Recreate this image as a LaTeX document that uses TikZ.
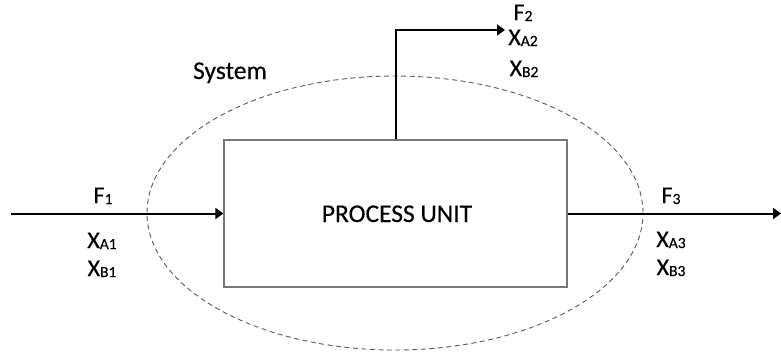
\documentclass[tikz,border=0pt]{standalone}
\usepackage{fontspec}
\setmainfont{Carlito}[FakeBold=0.35]
\usetikzlibrary{arrows.meta,shapes.geometric}
\definecolor{sysgray}{RGB}{90,90,90}
\definecolor{boxgray}{RGB}{120,120,120}
\newcommand\mysub[1]{\raisebox{-1pt}{\fontsize{15.5}{15.5}\selectfont #1}}
\begin{document}
\begin{tikzpicture}[x=1pt,y=-1pt,
  lbl/.style={anchor=base,inner sep=0pt,font=\fontsize{24}{28}\selectfont},
  big/.style={anchor=base,inner sep=0pt,font=\fontsize{25.5}{28}\selectfont},
  flow/.style={line width=2pt,-{Triangle[length=8pt,width=11pt]}},
  sys/.style={draw=sysgray,line width=0.9pt,dash pattern=on 5pt off 3.5pt},
  unit/.style={draw=boxgray,line width=1.3pt,fill=white,minimum width=343pt,minimum height=147pt,inner sep=0pt}]
\useasboundingbox (0,0) rectangle (781,354);
\node[sys,ellipse,minimum width=496pt,minimum height=274pt,inner sep=0pt] (sysel) at (395,213) {};
\node[unit] (box) at (395.5,213.5) {};
\node[big] (pu) at (397,222) {PROCESS UNIT};
\node[big] (system) at (230,79) {System};
\coordinate (in) at (11,213.5);
\coordinate (out) at (781,213.5);
\coordinate (top) at (505,30);
\draw[flow] (in) -- (box.west);
\draw[flow] (box.east) -- (out);
\draw[flow] (box.north) |- (top);
\node[lbl] (f1) at (103,203) {F\mysub{1}};
\node[lbl] (xa1) at (102,248) {X\mysub{A1}};
\node[lbl] (xb1) at (102,276) {X\mysub{B1}};
\node[lbl] (f2) at (523,20) {F\mysub{2}};
\node[lbl] (xa2) at (523,45) {X\mysub{A2}};
\node[lbl] (xb2) at (524,76) {X\mysub{B2}};
\node[lbl] (f3) at (671,203) {F\mysub{3}};
\node[lbl] (xa3) at (671,247) {X\mysub{A3}};
\node[lbl] (xb3) at (671,275) {X\mysub{B3}};
\end{tikzpicture}
\end{document}
